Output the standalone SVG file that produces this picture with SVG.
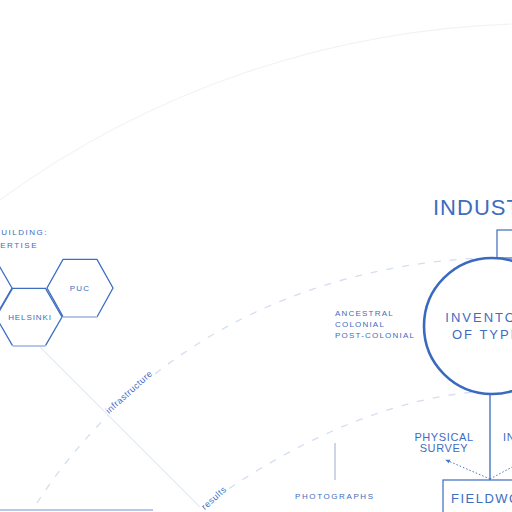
<svg xmlns="http://www.w3.org/2000/svg" width="512" height="512" viewBox="0 0 512 512">
<defs>
<style>
.t{font-family:"Liberation Sans",Arial,sans-serif;fill:#3e6cbf}
.hex{fill:none;stroke:#3f6fc2;stroke-width:1.3}
.hexl{fill:none;stroke:#b5c7e8;stroke-width:2}
.dash{fill:none;stroke:#d3def0;stroke-width:1.3;stroke-dasharray:7 9}
.dot{fill:none;stroke:#4a76c4;stroke-width:1;stroke-dasharray:1.5 2}
.halo{paint-order:stroke;stroke:#fff;stroke-width:3}
</style>
<marker id="ah" viewBox="0 0 6 6" refX="5" refY="3" markerWidth="5" markerHeight="5" orient="auto">
<path d="M0,0.5 L6,3 L0,5.5 z" fill="#4a76c4"/>
</marker>
</defs>
<rect width="512" height="512" fill="#fff"/>
<g id="connectors">
<path d="M0,200 C150,90 330,30 512,24" fill="none" stroke="#f1f3f7" stroke-width="1.2"/>
<path class="dash" d="M37,503 C110,390 250,270 480,258"/>
<path class="dash" d="M203,507 C280,450 380,400 475,392"/>
<path d="M40,347 L200,507" fill="none" stroke="#e6ecf6" stroke-width="1.2"/>
<line x1="490" y1="394" x2="490" y2="480" stroke="#3d6bbf" stroke-width="1.3"/>
<path class="dot" d="M490,479 L446,460" marker-end="url(#ah)"/>
<path class="dot" d="M490,479 L514,466"/>
<line x1="335" y1="443" x2="335" y2="480" stroke="#9aaed0" stroke-width="1"/>
<line x1="0" y1="510" x2="153" y2="510" stroke="#b8c8e6" stroke-width="2"/>
</g>
<g id="hex-left">
<polygon class="hex" points="12,288 -4.5,259.4 -37.5,259.4 -54,288 -37.5,316.6 -4.5,316.6"/>
</g>
<g id="hex-puc">
<polyline class="hex" points="97,317 113,288 97,259.4 63,259.4 47,288 63,316.6"/>
<line class="hexl" x1="63" y1="317" x2="97" y2="317" stroke-width="1.5"/>
<text class="t" x="80" y="291" font-size="8" text-anchor="middle" letter-spacing="1.2">PUC</text>
</g>
<g id="hex-helsinki">
<polyline class="hex" points="12.5,345.6 -4,317 12.5,288.4 45.5,288.4 62,317 45.5,345.6"/>
<line class="hexl" x1="12.5" y1="346" x2="45.5" y2="346"/>
<text class="t" x="30" y="320" font-size="8" text-anchor="middle" letter-spacing="0.9">HELSINKI</text>
</g>
<g id="capacity">
<text class="t" font-size="8" text-anchor="end" letter-spacing="1.5"><tspan x="48" y="235">BUILDING:</tspan><tspan x="38" y="248">EXPERTISE</tspan></text>
</g>
<g id="industry">
<text class="t" x="433" y="215" font-size="22" letter-spacing="1">INDUSTRY</text>
<rect x="497" y="230" width="40" height="28" fill="none" stroke="#3d6bbf" stroke-width="1.2"/>
</g>
<g id="inventory">
<circle cx="492" cy="326" r="68" fill="#fff" stroke="#3a6abf" stroke-width="2.6"/>
<text class="t" x="492" y="322" font-size="13" text-anchor="middle" letter-spacing="2">INVENTORY</text>
<text class="t" x="492" y="339" font-size="13" text-anchor="middle" letter-spacing="2">OF TYPES</text>
</g>
<g id="periods">
<text class="t" font-size="8" letter-spacing="1.2"><tspan x="335" y="316">ANCESTRAL</tspan><tspan x="335" y="327">COLONIAL</tspan><tspan x="335" y="338">POST-COLONIAL</tspan></text>
</g>
<g id="labels">
<text class="t halo" x="129" y="395" font-size="9" text-anchor="middle" letter-spacing="0.5" transform="rotate(-42 129 392)">infrastructure</text>
<text class="t halo" x="214" y="501" font-size="9" text-anchor="middle" letter-spacing="0.5" transform="rotate(-42 214 498)">results</text>
</g>
<g id="physical">
<text class="t" font-size="11" text-anchor="middle" letter-spacing="0.6"><tspan x="444" y="441">PHYSICAL</tspan><tspan x="444" y="452">SURVEY</tspan></text>
</g>
<g id="interviews">
<text class="t" x="503" y="441" font-size="11" letter-spacing="0.6">INTERVIEWS</text>
</g>
<g id="photographs">
<text class="t" x="295" y="499" font-size="8" letter-spacing="1.6" fill="#4e78c4">PHOTOGRAPHS</text>
</g>
<g id="fieldwork">
<rect x="443" y="480" width="100" height="50" fill="#fff" stroke="#3d6bbf" stroke-width="1.2"/>
<text class="t" x="451" y="503" font-size="13" letter-spacing="1.5">FIELDWORK</text>
</g>
</svg>
